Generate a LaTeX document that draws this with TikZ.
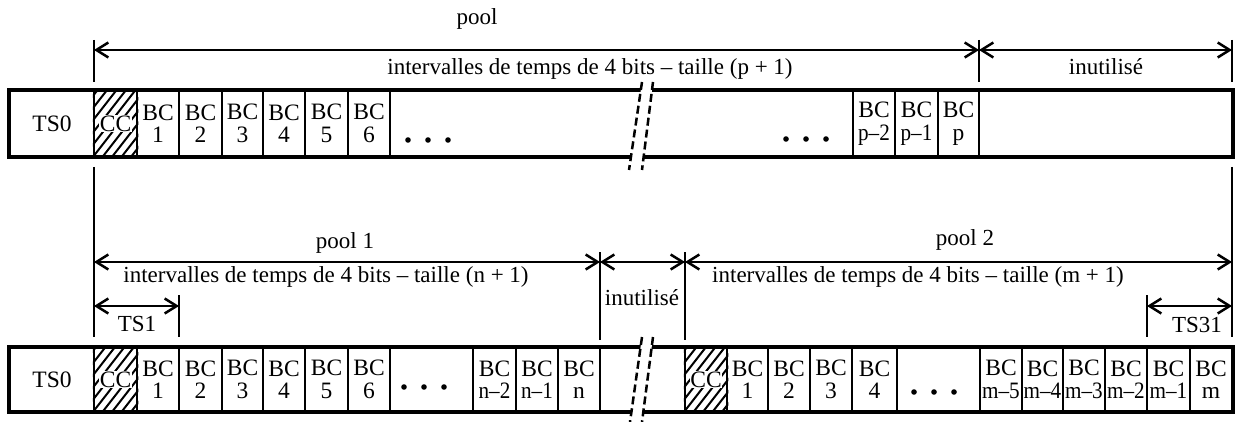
\documentclass[tikz,border=0pt]{standalone}
\usepackage{fontspec}
\usepackage{graphicx}
\setmainfont{Liberation Serif}
\usetikzlibrary{arrows.meta,calc}
\newcommand\cellfont{\fontsize{23.5}{22.5}\selectfont}
\newcommand\lblfont{\fontsize{23}{26}\selectfont}
\newcommand\sq[1]{\scalebox{0.9}[1]{#1}}
\tikzset{
 cell/.style={draw, line width=2.5pt, inner sep=0pt, align=center, font=\cellfont},
 frame/.style={line width=4pt},
 dim/.style={line width=2.5pt},
 dimarrow/.style={line width=2.5pt, {Straight Barb[length=12pt,width=15pt]}-{Straight Barb[length=12pt,width=15pt]}},
 lbl/.style={inner sep=0pt, anchor=base, font=\lblfont},
 hatch/.style={line width=2pt},
 brk/.style={line width=2.5pt, dash pattern=on 8pt off 4pt},
 cclbl/.style={fill=white, inner sep=0.5pt, font=\cellfont},
}
\newcommand\mycell[6]{\node[cell, minimum width={(#3-#2)*1pt}, minimum height={(#5-#4)*1pt}] (#1) at ({(#2+#3)/2},{(#4+#5)/2}) {#6};}
\newcommand\topcell[4]{\mycell{#1}{#2}{#3}{91}{156}{#4}}
\newcommand\botcell[4]{\mycell{#1}{#2}{#3}{348}{411}{#4}}
\newcommand\hatchcell[2]{%
 \begin{scope}
 \clip (#1.south west) rectangle (#1.north east);
 \foreach \k in {-6,...,6} \draw[hatch] ($(#1.south west)+(\k*9.5,0)$) -- ++(56,-72);
 \end{scope}
 \node[cclbl] (#2) at (#1.center) {CC};}
\begin{document}
\begin{tikzpicture}[x=1pt,y=-1pt]
\useasboundingbox (0,0) rectangle (1236,422);
% ---------- top row ----------
\topcell{tts0}{10}{94}{TS0}
\topcell{tcc}{94}{137}{}
\topcell{tbc1}{137}{179}{BC\\1}
\topcell{tbc2}{179}{222}{BC\\2}
\topcell{tbc3}{222}{263}{BC\\3}
\topcell{tbc4}{263}{305}{BC\\4}
\topcell{tbc5}{305}{348}{BC\\5}
\topcell{tbc6}{348}{390}{BC\\6}
\topcell{tmid}{390}{853}{}
\topcell{tbcpb}{853}{895}{BC\\\sq{p–2}}
\topcell{tbcpa}{895}{938}{BC\\\sq{p–1}}
\topcell{tbcp}{938}{979}{BC\\p}
\topcell{tfree}{979}{1232}{}
\hatchcell{tcc}{tcct}
\draw[frame] (tts0.north west) rectangle (tfree.south east);
\foreach \x in {408,428,448} \fill (\x,140) circle[radius=2.8];
\foreach \x in {786,806,826} \fill (\x,139) circle[radius=2.8];
\fill[white] (642,82) -- (653,82) -- (642,170) -- (629,170) -- cycle;
\draw[brk] (642,82) -- (629,170);
\draw[brk] (653,82) -- (642,170);
% top dimensions
\coordinate (a0) at (94,50);
\coordinate (a1) at (979,50);
\coordinate (a2) at (1232,50);
\coordinate (v0t) at (94,40);   \coordinate (v0b) at (94,82);
\coordinate (v1t) at (979,40);  \coordinate (v1b) at (979,82);
\coordinate (v2t) at (1232,40); \coordinate (v2b) at (1232,82);
\draw[dim] (v0t) -- (v0b);
\draw[dim] (v1t) -- (v1b);
\draw[dim] (v2t) -- (v2b);
\draw[dimarrow] (a0) -- (a1);
\draw[dimarrow] (a1) -- (a2);
\node[lbl] (lpool) at (477,25) {pool};
\node[lbl] (lintp) at (590,75) {intervalles de temps de 4 bits – taille (p + 1)};
\node[lbl] (lunt) at (1106,75) {inutilisé};
% long verticals between rows
\coordinate (w0t) at (94,167);   \coordinate (w0b) at (94,337);
\coordinate (w3t) at (1232,167); \coordinate (w3b) at (1232,337);
\draw[dim] (w0t) -- (w0b);
\draw[dim] (w3t) -- (w3b);
% ---------- bottom dimensions ----------
\coordinate (b0) at (94,262);
\coordinate (b1) at (600,262);
\coordinate (b2) at (685,262);
\coordinate (b3) at (1232,262);
\coordinate (u1t) at (600,252); \coordinate (u1b) at (600,340);
\coordinate (u2t) at (685,252); \coordinate (u2b) at (685,340);
\draw[dim] (u1t) -- (u1b);
\draw[dim] (u2t) -- (u2b);
\draw[dimarrow] (b0) -- (b1);
\draw[dimarrow] (b1) -- (b2);
\draw[dimarrow] (b2) -- (b3);
\node[lbl] (lpool1) at (345,248) {pool 1};
\node[lbl] (lpool2) at (965,245) {pool 2};
\node[lbl] (lintn) at (326,282) {intervalles de temps de 4 bits – taille (n + 1)};
\node[lbl] (lunb) at (642,305) {inutilisé};
\node[lbl] (lintm) at (918,282) {intervalles de temps de 4 bits – taille (m + 1)};
% TS1 / TS31
\coordinate (s1a) at (94,306);   \coordinate (s1b) at (179,306);
\coordinate (s1t) at (179,295);  \coordinate (s1d) at (179,337);
\coordinate (s31a) at (1147,306); \coordinate (s31b) at (1232,306);
\coordinate (s31t) at (1147,295); \coordinate (s31d) at (1147,337);
\draw[dim] (s1t) -- (s1d);
\draw[dim] (s31t) -- (s31d);
\draw[dimarrow] (s1a) -- (s1b);
\draw[dimarrow] (s31a) -- (s31b);
\node[lbl] (lts1) at (137,331) {TS1};
\node[lbl] (lts31) at (1197,332) {TS31};
% ---------- bottom row ----------
\botcell{bts0}{10}{94}{TS0}
\botcell{bcc}{94}{137}{}
\botcell{bbc1}{137}{179}{BC\\1}
\botcell{bbc2}{179}{222}{BC\\2}
\botcell{bbc3}{222}{263}{BC\\3}
\botcell{bbc4}{263}{305}{BC\\4}
\botcell{bbc5}{305}{348}{BC\\5}
\botcell{bbc6}{348}{390}{BC\\6}
\botcell{bmid}{390}{473}{}
\botcell{bbcnb}{473}{516}{BC\\\sq{n–2}}
\botcell{bbcna}{516}{558}{BC\\\sq{n–1}}
\botcell{bbcn}{558}{600}{BC\\n}
\botcell{bgap}{600}{685}{}
\botcell{bcc2}{685}{727}{}
\botcell{cbc1}{727}{768}{BC\\1}
\botcell{cbc2}{768}{810}{BC\\2}
\botcell{cbc3}{810}{852}{BC\\3}
\botcell{cbc4}{852}{897}{BC\\4}
\botcell{cmid}{897}{980}{}
\botcell{cbcm5}{980}{1022}{BC\\\sq{m–5}}
\botcell{cbcm4}{1022}{1063}{BC\\\sq{m–4}}
\botcell{cbcm3}{1063}{1105}{BC\\\sq{m–3}}
\botcell{cbcm2}{1105}{1147}{BC\\\sq{m–2}}
\botcell{cbcm1}{1147}{1190}{BC\\\sq{m–1}}
\botcell{cbcm}{1190}{1232}{BC\\m}
\hatchcell{bcc}{bcct}
\hatchcell{bcc2}{bcct2}
\draw[frame] (bts0.north west) rectangle (cbcm.south east);
\foreach \x in {404,424,444} \fill (\x,387) circle[radius=2.8];
\foreach \x in {914,934,954} \fill (\x,392) circle[radius=2.8];
\fill[white] (642,337) -- (653,337) -- (642,422) -- (630,422) -- cycle;
\draw[brk] (642,337) -- (630,422);
\draw[brk] (653,337) -- (642,422);
\end{tikzpicture}
\end{document}
